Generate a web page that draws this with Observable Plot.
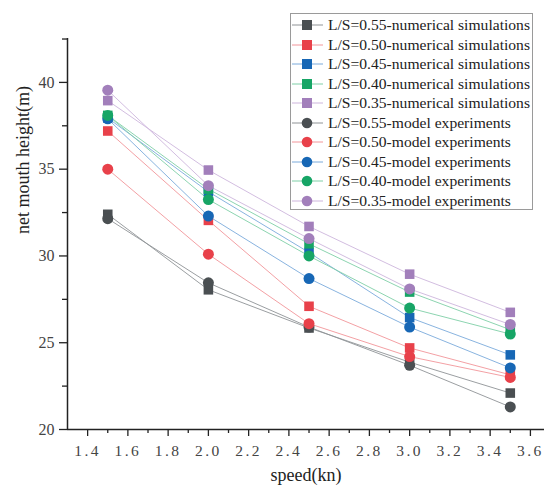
<!DOCTYPE html>
<html>
<head>
<meta charset="utf-8">
<script src="https://cdn.jsdelivr.net/npm/d3@7"></script>
<script src="https://cdn.jsdelivr.net/npm/@observablehq/plot@0.6"></script>
<style>
  body { margin: 0; background: #fff; }
  #wrap { position: relative; width: 544px; height: 491px; }
  #legend { position: absolute; left: 290px; top: 13px; width: 243px; height: 197px; border: 1px solid #9a9a9a; box-sizing: border-box; background: #fff; font-family: "Liberation Serif", "Times New Roman", serif; font-size: 15.6px; color: #222; }
  .row { position: absolute; left: 0; height: 20px; display: flex; align-items: center; white-space: nowrap; }
  .row svg { margin-left: 1px; margin-right: 5px; }
  svg g[aria-label="x-axis tick label"] text { letter-spacing: 2.5px; }
</style>
</head>
<body>
<div id="wrap"><div id="legend"></div></div>
<script>
const speeds = [1.5, 2.0, 2.5, 3.0, 3.5];
const ratios = ["0.55", "0.50", "0.45", "0.40", "0.35"];
const colors = ["#4a4f52", "#e8414a", "#1767b5", "#17a566", "#a27fbb"];
const lineColors = ["#8f9396", "#f2959a", "#7aaadb", "#7fcfa7", "#cdb5dc"];

// numerical simulations (squares)
const sim055 = [32.4, 28.05, 25.85, 23.88, 22.1];
const sim050 = [37.2, 32.05, 27.1, 24.7, 23.15];
const sim045 = [37.95, 33.7, 30.2, 26.45, 24.3];
const sim040 = [38.1, 33.85, 30.7, 27.92, 25.75];
const sim035 = [38.95, 34.95, 31.7, 28.95, 26.75];
// model experiments (circles)
const exp055 = [32.15, 28.45, 25.9, 23.7, 21.3];
const exp050 = [35.0, 30.1, 26.1, 24.2, 23.0];
const exp045 = [37.9, 32.3, 28.7, 25.9, 23.55];
const exp040 = [38.1, 33.25, 30.0, 27.0, 25.5];
const exp035 = [39.55, 34.05, 31.0, 28.1, 26.05];

const xMajor = [1.4, 1.6, 1.8, 2.0, 2.2, 2.4, 2.6, 2.8, 3.0, 3.2, 3.4, 3.6];
const xMinor = [1.5, 1.7, 1.9, 2.1, 2.3, 2.5, 2.7, 2.9, 3.1, 3.3, 3.5];
const yMajor = [20, 25, 30, 35, 40];
const yMinor = [22.5, 27.5, 32.5, 37.5, 42.5];

const simSets = [sim055, sim050, sim045, sim040, sim035];
const expSets = [exp055, exp050, exp045, exp040, exp035];

const series = [];
simSets.forEach((arr, i) => series.push({name: `L/S=${ratios[i]}-numerical simulations`, kind: "sim", ci: i, values: arr}));
expSets.forEach((arr, i) => series.push({name: `L/S=${ratios[i]}-model experiments`, kind: "exp", ci: i, values: arr}));

const rows = [];
series.forEach((s, si) => s.values.forEach((v, k) => rows.push({si, kind: s.kind, ci: s.ci, speed: speeds[k], h: v})));

const serif = "'Liberation Serif', 'Times New Roman', serif";

const marks = [];
series.forEach((s, si) => {
  marks.push(Plot.line(rows.filter(r => r.si === si), {x: "speed", y: "h", stroke: lineColors[s.ci], strokeWidth: 0.9}));
});
series.forEach((s, si) => {
  marks.push(Plot.dot(rows.filter(r => r.si === si), {x: "speed", y: "h", fill: colors[s.ci], stroke: "none",
    symbol: s.kind === "sim" ? "square" : "circle", r: s.kind === "sim" ? 5.4 : 5.5}));
});
marks.push(Plot.ruleY([20], {stroke: "#222", strokeWidth: 1.5}));
marks.push(Plot.ruleX([1.3], {stroke: "#222", strokeWidth: 1.5}));
marks.push(Plot.axisX(xMajor, {tickSize: 7, tickPadding: 8, stroke: "#222", strokeWidth: 1.3, fontSize: 15.5, fill: "#444",
  tickFormat: d => d.toFixed(1), label: null}));
marks.push(Plot.axisX(xMinor, {tickSize: 4, stroke: "#222", strokeWidth: 1.3, tickFormat: () => "", label: null}));
marks.push(Plot.axisY(yMajor, {tickSize: 8, tickPadding: 5, stroke: "#222", strokeWidth: 1.3, fontSize: 16, fill: "#444", label: null}));
marks.push(Plot.axisY(yMinor, {tickSize: 5, stroke: "#222", strokeWidth: 1.3, tickFormat: () => "", label: null}));
marks.push(Plot.text(["speed(kn)"], {frameAnchor: "bottom", dy: 51, fontSize: 18, fill: "#222"}));
marks.push(Plot.text(["net mouth height(m)"], {frameAnchor: "left", dx: -44, rotate: -90, fontSize: 18, fill: "#222"}));

const chart = Plot.plot({
  width: 544, height: 491,
  marginLeft: 67, marginTop: 38, marginBottom: 62, marginRight: 0,
  x: {domain: [1.3, 3.67]},
  y: {domain: [20, 42.53]},
  style: {background: "#fff", overflow: "visible", fontFamily: serif},
  marks
});
document.getElementById("wrap").prepend(chart);

const legend = document.getElementById("legend");
series.forEach((s, i) => {
  const row = document.createElement("div");
  row.className = "row";
  row.style.top = (1 + i * 19.55) + "px";
  const shape = s.kind === "sim"
    ? `<rect x="10" y="5" width="10" height="10" fill="${colors[s.ci]}"/>`
    : `<circle cx="15" cy="10" r="5.3" fill="${colors[s.ci]}"/>`;
  row.innerHTML = `<svg width="31" height="20"><line x1="0" x2="31" y1="10" y2="10" stroke="${lineColors[s.ci]}" stroke-width="1"/>${shape}</svg><span>${s.name}</span>`;
  legend.appendChild(row);
});
</script>
</body>
</html>
